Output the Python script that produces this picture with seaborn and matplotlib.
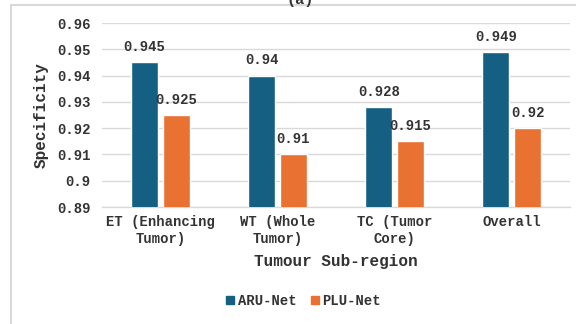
import matplotlib
matplotlib.use("Agg")
import matplotlib.pyplot as plt
from matplotlib.lines import Line2D
import seaborn as sns
import pandas as pd

# Specificity per tumour sub-region for the two networks
regions = ["ET (Enhancing\nTumor)", "WT (Whole\nTumor)", "TC (Tumor\nCore)", "Overall"]
aru_net = [0.945, 0.94, 0.928, 0.949]
plu_net = [0.925, 0.91, 0.915, 0.92]
models = ["ARU-Net", "PLU-Net"]
yticks = [0.89, 0.90, 0.91, 0.92, 0.93, 0.94, 0.95, 0.96]
ytick_labels = ["0.89", "0.9", "0.91", "0.92", "0.93", "0.94", "0.95", "0.96"]

df = pd.DataFrame({
    "region": regions * 2,
    "model": [models[0]] * len(regions) + [models[1]] * len(regions),
    "value": aru_net + plu_net,
})

sns.set_theme(style="white")
plt.rcParams["font.family"] = ["Liberation Mono", "DejaVu Sans Mono"]
plt.rcParams["font.weight"] = "bold"

text_color = "#333333"
palette = {"ARU-Net": "#156082", "PLU-Net": "#E97132"}

fig = plt.figure(figsize=(5.76, 3.24), dpi=100)
ax = fig.add_axes([0.177, 0.361, 0.813, 0.568])

sns.barplot(data=df, x="region", y="value", hue="model", order=regions,
            hue_order=models, palette=palette, width=0.54, gap=0.15,
            saturation=1, ax=ax, legend=False, zorder=3)

ax.set_ylim(0.89, 0.96)
ax.set_xlim(-0.5, 3.5)
ax.set_yticks(yticks)
ax.set_yticklabels(ytick_labels)
ax.yaxis.grid(True, color="#d9d9d9", linewidth=1.0, zorder=0)
ax.set_axisbelow(True)
for s in ["top", "right", "left"]:
    ax.spines[s].set_visible(False)
ax.spines["bottom"].set_color("#d9d9d9")
ax.spines["bottom"].set_linewidth(1.0)
ax.tick_params(axis="both", length=0, labelsize=10, colors=text_color, pad=8)
ax.tick_params(axis="x", pad=6)

for cont in ax.containers:
    ax.bar_label(cont, labels=[f"{v:g}" for v in cont.datavalues],
                 padding=6, fontsize=10, color=text_color, fontweight="bold")

ax.set_xlabel("Tumour Sub-region", fontsize=11.5, color=text_color,
              fontweight="bold", labelpad=6)
ax.set_ylabel("Specificity", fontsize=11.5, color=text_color,
              fontweight="bold", labelpad=6)

handles = [Line2D([], [], marker="s", linestyle="none", markersize=6,
                  markerfacecolor=palette[m], markeredgecolor=palette[m])
           for m in models]
fig.legend(handles, models, loc="center", bbox_to_anchor=(0.527, 0.072),
           ncol=2, frameon=False, fontsize=10, handlelength=0.6,
           handletextpad=0.25, columnspacing=1.0, labelcolor=text_color)

# Panel frame and caption
fig.add_artist(Line2D([11 / 576, 11 / 576], [0, 1 - 5 / 324],
                      transform=fig.transFigure, color="#d9d9d9", linewidth=1.5))
fig.add_artist(Line2D([11 / 576, 1], [1 - 5 / 324, 1 - 5 / 324],
                      transform=fig.transFigure, color="#d9d9d9", linewidth=1.5))
fig.text(300 / 576, 1.0, "(a)", ha="center", va="center", fontsize=11,
         color=text_color)

fig.savefig("out.png", dpi=100)
